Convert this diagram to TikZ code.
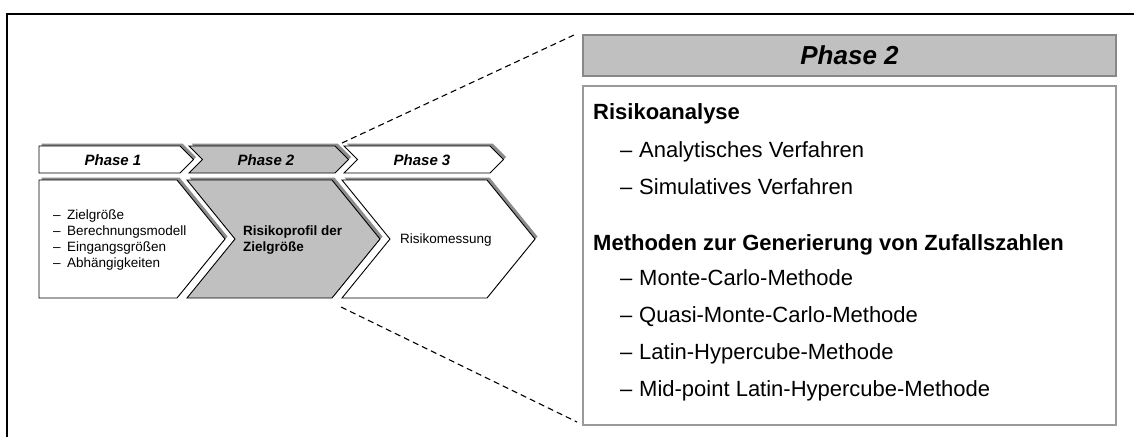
\documentclass[tikz,border=0pt]{standalone}
\usepackage{fontspec}
\setmainfont{Liberation Sans}
\definecolor{phasegray}{HTML}{C0C0C0}
\definecolor{shadowgray}{HTML}{8C8C8C}
\definecolor{framegray}{HTML}{888888}
\definecolor{boxgray}{HTML}{9A9A9A}
\newcommand{\itemdash}{\makebox[14pt][l]{–}}
\newcommand{\bigdash}{\makebox[19pt][l]{–}}
\begin{document}
\begin{tikzpicture}[x=1pt,y=-1pt,
  shape line/.style={draw=black, line width=0.9pt, line join=miter},
  drop/.style={fill=shadowgray, draw=none, shift={(2.5,-2.5)}},
  headtext/.style={font=\fontsize{15}{18}\selectfont\bfseries\itshape, inner sep=0pt},
  bodytext/.style={font=\fontsize{13.5}{16}\selectfont, inner sep=0pt, align=left, anchor=west},
  paneltext/.style={font=\fontsize{22}{26}\selectfont, inner sep=0pt, anchor=base west},
  panelhead/.style={font=\fontsize{22}{26}\selectfont\bfseries, inner sep=0pt, anchor=base west},
  zoomline/.style={draw=black, line width=1.1pt, dash pattern=on 6pt off 4pt}
]
\useasboundingbox (0,0) rectangle (1134,437);

% outer frame: top and left edge only
\draw[line width=2pt] (7,437) -- (7,14) -- (1134,14);

% ---- phase headers (shadow first, then shape) ----
\path[drop] (39,146) -- (180,146) -- (193.5,159.5) -- (180,173) -- (39,173) -- cycle;
\path[drop] (189,146) -- (335,146) -- (348.5,159.5) -- (335,173) -- (189,173) -- (202.5,159.5) -- cycle;
\path[drop] (344,146) -- (490,146) -- (503.5,159.5) -- (490,173) -- (344,173) -- (357.5,159.5) -- cycle;
\path[shape line, fill=white] (39,146) -- (180,146) -- (193.5,159.5) -- (180,173) -- (39,173) -- cycle;
\path[shape line, fill=phasegray] (189,146) -- (335,146) -- (348.5,159.5) -- (335,173) -- (189,173) -- (202.5,159.5) -- cycle;
\path[shape line, fill=white] (344,146) -- (490,146) -- (503.5,159.5) -- (490,173) -- (344,173) -- (357.5,159.5) -- cycle;

\node[headtext] (h1) at (113,160) {Phase 1};
\node[headtext] (h2) at (266,160) {Phase 2};
\node[headtext] (h3) at (422,160) {Phase 3};

% ---- phase bodies ----
\path[drop] (39,180) -- (177,180) -- (225,239) -- (177,298) -- (39,298) -- cycle;
\path[drop] (187,180) -- (332,180) -- (380,239) -- (332,298) -- (187,298) -- (235,239) -- cycle;
\path[drop] (342,180) -- (487,180) -- (535,239) -- (487,298) -- (342,298) -- (390,239) -- cycle;
\path[shape line, fill=white] (39,180) -- (177,180) -- (225,239) -- (177,298) -- (39,298) -- cycle;
\path[shape line, fill=phasegray] (187,180) -- (332,180) -- (380,239) -- (332,298) -- (187,298) -- (235,239) -- cycle;
\path[shape line, fill=white] (342,180) -- (487,180) -- (535,239) -- (487,298) -- (342,298) -- (390,239) -- cycle;

\node[bodytext] (b1) at (53,240) {\itemdash Zielgröße\\ \itemdash Berechnungsmodell\\ \itemdash Eingangsgrößen\\ \itemdash Abhängigkeiten};
\node[bodytext, font=\fontsize{13.5}{16}\selectfont\bfseries] (b2) at (243,240) {Risikoprofil der\\ Zielgröße};
\node[bodytext] (b3) at (400,240) {Risikomessung};

% ---- detail panel for phase 2 ----
\node[draw=framegray, line width=2pt, fill=phasegray, minimum width=533pt, minimum height=41pt,
      inner sep=0pt, anchor=north west, font=\fontsize{26}{30}\selectfont\bfseries\itshape]
      (ph) at (582,34) {Phase 2};
\node[draw=boxgray, line width=1.6pt, fill=white, minimum width=533pt, minimum height=339pt,
      inner sep=0pt, anchor=north west] (pb) at (582,85) {};

\node[panelhead] (r1) at (593,119) {Risikoanalyse};
\node[paneltext] (r2) at (620,157) {\bigdash Analytisches Verfahren};
\node[paneltext] (r3) at (620,194) {\bigdash Simulatives Verfahren};
\node[panelhead] (m1) at (593,250) {Methoden zur Generierung von Zufallszahlen};
\node[paneltext] (m2) at (620,285) {\bigdash Monte-Carlo-Methode};
\node[paneltext] (m3) at (620,322) {\bigdash Quasi-Monte-Carlo-Methode};
\node[paneltext] (m4) at (620,359) {\bigdash Latin-Hypercube-Methode};
\node[paneltext] (m5) at (620,396) {\bigdash Mid-point Latin-Hypercube-Methode};

% ---- dashed zoom lines from phase 2 to the panel ----
\coordinate (zs1) at (342,143);
\coordinate (ze1) at (574,35);
\coordinate (zs2) at (341,307);
\coordinate (ze2) at (577,422);
\draw[zoomline] (zs1) -- (ze1);
\draw[zoomline] (zs2) -- (ze2);
\end{tikzpicture}
\end{document}
